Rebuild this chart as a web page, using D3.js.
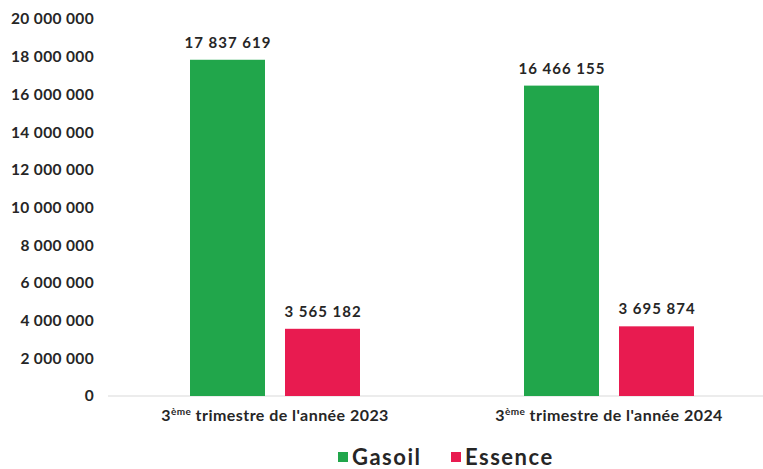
<!DOCTYPE html>
<html><head><meta charset="utf-8">
<script src="https://cdn.jsdelivr.net/npm/d3@7"></script>
<style>
body{margin:0;background:#fff;}
text{font-family:Lato,"Open Sans",sans-serif;font-weight:700;fill:#262626;}
</style></head>
<body><svg id="c" width="763" height="469"></svg>
<script>
const categories = ["2023", "2024"];
const seriesNames = ["Gasoil", "Essence"];
const gasoil = [17837619, 16466155];
const essence = [3565182, 3695874];
const yTicks = [0, 2000000, 4000000, 6000000, 8000000, 10000000, 12000000, 14000000, 16000000, 18000000, 20000000];
const colors = ["#21A64B", "#E81B50"];

const svg = d3.select("#c");
const fmt = v => d3.format(",")(v).replace(/,/g, " ");

const y = d3.scaleLinear().domain([0, 20000000]).range([396, 19]);
const x0 = d3.scaleBand().domain(categories).range([108, 776]).padding(0);
const x1 = d3.scaleBand().domain(seriesNames).range([82, 252]).paddingInner(20/95).paddingOuter(0);

// axis line
svg.append("line").attr("x1", 108).attr("x2", 776).attr("y1", y(0)).attr("y2", y(0))
  .attr("stroke", "#d9d9d9").attr("stroke-width", 1);

// y tick labels
const yAxis = d3.axisLeft(y).tickValues(yTicks).tickFormat(fmt).tickSize(0).tickPadding(0);
const ga = svg.append("g").attr("transform", "translate(94,0)").call(yAxis);
ga.select(".domain").remove();
ga.selectAll("text").style("font-size", "15.5px").style("font-family", "Lato,sans-serif")
  .style("font-weight", "700").style("letter-spacing", "0.35px").attr("fill", "#262626");

const data = categories.map((c, i) => ({cat: c, vals: [{s: "Gasoil", v: gasoil[i]}, {s: "Essence", v: essence[i]}]}));

const g = svg.selectAll("g.cat").data(data).join("g").attr("class", "cat")
  .attr("transform", d => `translate(${x0(d.cat)},0)`);

g.selectAll("rect").data(d => d.vals).join("rect")
  .attr("x", d => x1(d.s)).attr("width", x1.bandwidth())
  .attr("y", d => y(d.v)).attr("height", d => y(0) - y(d.v))
  .attr("fill", (d, i) => colors[i]);

g.selectAll("text.val").data(d => d.vals).join("text").attr("class", "val")
  .attr("x", d => x1(d.s) + x1.bandwidth() / 2 + 0.5).attr("y", d => y(d.v) - 12)
  .attr("text-anchor", "middle").style("font-size", "15px").style("letter-spacing", "1px")
  .text(d => fmt(d.v));

// category labels
g.append("text").attr("x", d => x1.range()[0] + (x1.range()[1] - x1.range()[0]) / 2).attr("y", 421)
  .attr("text-anchor", "middle").style("font-size", "16px").style("letter-spacing", "0.45px")
  .call(t => {
    t.append("tspan").text("3");
    t.append("tspan").attr("dy", -6).style("font-size", "10px").text("ème");
    t.append("tspan").attr("dy", 6).text(d => " trimestre de l'année " + d.cat);
  });

// legend
const legX = [338, 451];
const leg = svg.selectAll("g.leg").data(seriesNames).join("g").attr("class", "leg")
  .attr("transform", (d, i) => `translate(${legX[i]},0)`);
leg.append("rect").attr("x", 0).attr("y", 452).attr("width", 10).attr("height", 10).attr("fill", (d, i) => colors[i]);
leg.append("text").attr("x", 14).attr("y", 465).style("font-size", "22px").style("letter-spacing", "1.5px").text(d => d);
</script></body></html>
